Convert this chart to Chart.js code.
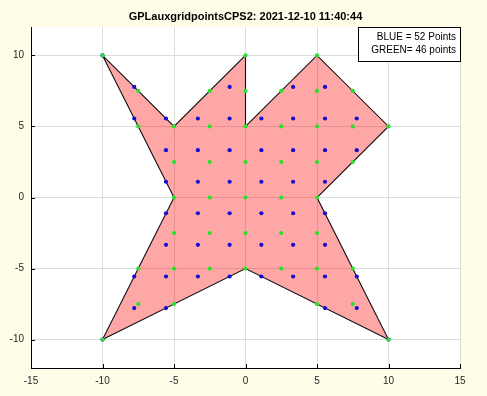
<!DOCTYPE html>
<html><head><meta charset="utf-8">
<script src="https://cdn.jsdelivr.net/npm/chart.js@4/dist/chart.umd.min.js"></script>
<style>html,body{margin:0;padding:0;background:#fffde8;}#wrap{width:487px;height:396px;position:relative}</style>
</head><body><div id="wrap"><canvas id="c" width="487" height="396"></canvas></div>
<script>
const titleText = 'GPLauxgridpointsCPS2: 2021-12-10 11:40:44';
const noteLines = ['BLUE = 52 Points', 'GREEN= 46 points'];
const xTicks = [-15, -10, -5, 0, 5, 10, 15];
const yTicks = [-10, -5, 0, 5, 10];

// polygon outline (closed)
const polyX = [-10, -5, 0, 0, 5, 10, 5, 10, 0, -10, -5, -10];
const polyY = [10, 5, 10, 5, 10, 5, 0, -10, -5, -10, 0, 10];

// green points (46)
const greenX = [
  -10, 0, 5,
  -7.5, -2.5, 0, 2.5, 5, 7.5,
  -7.5, -5, -2.5, 0, 2.5, 5, 7.5, 10,
  -5, -2.5, 0, 2.5, 5, 7.5,
  -5, -2.5, 0, 2.5, 5,
  -5, -2.5, 0, 2.5, 5,
  -7.5, -5, -2.5, 0, 2.5, 5, 7.5,
  -7.5, -5, 5, 7.5,
  -10, 10
];
const greenY = [
  10, 10, 10,
  7.5, 7.5, 7.5, 7.5, 7.5, 7.5,
  5, 5, 5, 5, 5, 5, 5, 5,
  2.5, 2.5, 2.5, 2.5, 2.5, 2.5,
  0, 0, 0, 0, 0,
  -2.5, -2.5, -2.5, -2.5, -2.5,
  -5, -5, -5, -5, -5, -5, -5,
  -7.5, -7.5, -7.5, -7.5,
  -10, -10
];

// blue points (52)
const blueX = [
  -10,
  -7.78, -1.11, 3.33, 5.56,
  -7.78, -5.56, -3.33, -1.11, 1.11, 3.33, 5.56, 7.78,
  -5.56, -3.33, -1.11, 1.11, 3.33, 5.56, 7.78,
  -5.56, -3.33, -1.11, 1.11, 3.33, 5.56,
  -5.56, -3.33, -1.11, 1.11, 3.33, 5.56,
  -5.56, -3.33, -1.11, 1.11, 3.33, 5.56,
  -7.78, -5.56, -3.33, -1.11, 1.11, 3.33, 5.56, 7.78,
  -7.78, -5.56, 5.56, 7.78,
  -10, 10
];
const blueY = [
  10,
  7.78, 7.78, 7.78, 7.78,
  5.56, 5.56, 5.56, 5.56, 5.56, 5.56, 5.56, 5.56,
  3.33, 3.33, 3.33, 3.33, 3.33, 3.33, 3.33,
  1.11, 1.11, 1.11, 1.11, 1.11, 1.11,
  -1.11, -1.11, -1.11, -1.11, -1.11, -1.11,
  -3.33, -3.33, -3.33, -3.33, -3.33, -3.33,
  -5.56, -5.56, -5.56, -5.56, -5.56, -5.56, -5.56, -5.56,
  -7.78, -7.78, -7.78, -7.78,
  -10, -10
];

const zip = (xs, ys) => xs.map((x, i) => ({x: x, y: ys[i]}));
const FONT = "'Liberation Sans', Arial, Helvetica, sans-serif";

const decor = {
  id: 'decor',
  beforeDraw(chart) {
    const {ctx, chartArea: a} = chart;
    ctx.save();
    ctx.fillStyle = '#ffffff';
    ctx.fillRect(a.left, a.top, a.right - a.left, a.bottom - a.top);
    ctx.restore();
  },
  afterDraw(chart) {
    const {ctx, chartArea: a, scales} = chart;
    ctx.save();
    // inward tick marks
    ctx.strokeStyle = '#000';
    ctx.lineWidth = 1;
    ctx.beginPath();
    xTicks.forEach(v => {
      const px = Math.round(scales.x.getPixelForValue(v)) + 0.5;
      ctx.moveTo(px, a.bottom);
      ctx.lineTo(px, a.bottom - 4);
    });
    yTicks.forEach(v => {
      const py = Math.round(scales.y.getPixelForValue(v)) + 0.5;
      ctx.moveTo(a.left, py);
      ctx.lineTo(a.left + 4, py);
    });
    ctx.stroke();
    // title
    ctx.fillStyle = '#000';
    ctx.font = 'bold 11px ' + FONT;
    ctx.textAlign = 'center';
    ctx.textBaseline = 'middle';
    ctx.fillText(titleText, (a.left + a.right) / 2, 17);
    // note box
    const bw = 102, bh = 34;
    const bx = a.right - bw, by = a.top;
    ctx.fillStyle = '#fff';
    ctx.fillRect(bx, by, bw, bh);
    ctx.strokeStyle = '#000';
    ctx.strokeRect(Math.round(bx) + 0.5, Math.round(by) + 0.5, bw, bh);
    ctx.fillStyle = '#000';
    ctx.font = '10px ' + FONT;
    ctx.textAlign = 'right';
    noteLines.forEach((t, i) => ctx.fillText(t, a.right - 4, by + 10 + i * 13));
    ctx.restore();
  }
};

new Chart(document.getElementById('c'), {
  type: 'scatter',
  data: {
    datasets: [
      {
        label: 'GREEN',
        data: zip(greenX, greenY),
        backgroundColor: 'rgb(40,225,40)',
        borderWidth: 0,
        pointRadius: 2.1,
        order: 0
      },
      {
        label: 'BLUE',
        data: zip(blueX, blueY),
        backgroundColor: 'rgb(20,10,210)',
        borderWidth: 0,
        pointRadius: 2.1,
        order: 1
      },
      {
        label: 'polygon',
        data: zip(polyX, polyY),
        showLine: true,
        fill: 'shape',
        backgroundColor: 'rgba(255,0,0,0.35)',
        borderColor: '#111',
        borderWidth: 1.1,
        pointRadius: 0,
        tension: 0,
        order: 2
      }
    ]
  },
  options: {
    responsive: false,
    devicePixelRatio: 1,
    animation: false,
    layout: {padding: {top: 27, right: 27, left: 0, bottom: 0}},
    plugins: {legend: {display: false}, title: {display: false}, tooltip: {enabled: false}},
    scales: {
      x: {
        type: 'linear', position: 'bottom', min: -15, max: 15,
        afterBuildTicks: s => { s.ticks = xTicks.map(v => ({value: v})); },
        afterFit: s => { s.height = 28; },
        grid: {color: '#dcdcdc', drawTicks: false, lineWidth: 1},
        border: {color: '#000', width: 1},
        ticks: {font: {family: FONT, size: 10}, color: '#262626', padding: 7, maxRotation: 0}
      },
      y: {
        type: 'linear', position: 'left', min: -12, max: 12,
        afterBuildTicks: s => { s.ticks = yTicks.map(v => ({value: v})); },
        afterFit: s => { s.width = 31; },
        grid: {color: '#dcdcdc', drawTicks: false, lineWidth: 1},
        border: {color: '#000', width: 1},
        ticks: {font: {family: FONT, size: 10}, color: '#262626', padding: 7}
      }
    }
  },
  plugins: [decor]
});
</script></body></html>
